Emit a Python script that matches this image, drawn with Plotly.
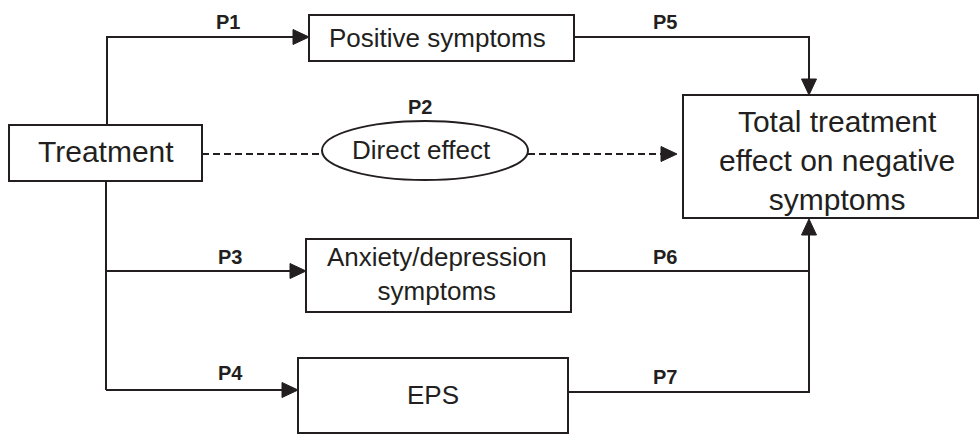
import plotly.graph_objects as go

# ---- data: node labels and path labels ----
node_names = ["treatment", "positive", "direct", "anxiety", "eps", "total"]
node_labels = ["Treatment", "Positive symptoms", "Direct effect",
               "Anxiety/depression<br>symptoms", "EPS",
               "Total treatment<br>effect on negative<br>symptoms"]
path_labels = ["P1", "P2", "P3", "P4", "P5", "P6", "P7"]

# ---- layout geometry (pixel coordinates of the diagram) ----
W, H = 979, 436
INK = "#231f20"
FONT = "Arial, Liberation Sans, Helvetica, sans-serif"

node_geom = {
    "treatment": dict(box=(9, 125, 202, 181), shape="rect", text=(106, 151), size=30),
    "positive":  dict(box=(309, 15, 574, 61), shape="rect", text=(437, 38), size=26),
    "direct":    dict(box=(322, 121, 528, 180), shape="ellipse", text=(421, 150), size=26),
    "anxiety":   dict(box=(306, 239, 571, 312), shape="rect", text=(437, 274), size=26),
    "eps":       dict(box=(298, 358, 568, 433), shape="rect", text=(433, 395), size=26),
    "total":     dict(box=(683, 95, 978, 218), shape="rect", text=(837, 160), size=30),
}

label_pos = [(228, 22), (420, 107), (230, 257), (230, 373),
             (665, 22), (665, 257), (665, 377)]

# edges: polyline points, arrow tip, arrow direction, dashed?
edges = [
    dict(pts=[(107, 125), (107, 37), (294, 37)], tip=(309, 37), d="right", dash=False),
    dict(pts=[(202, 154), (322, 154)], tip=None, d=None, dash=True),
    dict(pts=[(528, 154), (662, 154)], tip=(677, 154), d="right", dash=True),
    dict(pts=[(106, 181), (106, 390)], tip=None, d=None, dash=False),
    dict(pts=[(106, 271), (291, 271)], tip=(306, 271), d="right", dash=False),
    dict(pts=[(106, 390), (283, 390)], tip=(298, 390), d="right", dash=False),
    dict(pts=[(574, 37), (809, 37), (809, 80)], tip=(809, 95), d="down", dash=False),
    dict(pts=[(571, 271), (809, 271)], tip=None, d=None, dash=False),
    dict(pts=[(568, 392), (809, 392), (809, 234)], tip=(809, 219), d="up", dash=False),
]

ARROW_L, ARROW_HW = 16, 7.5

shapes = []
for name in node_names:
    g = node_geom[name]
    x0, y0, x1, y1 = g["box"]
    shapes.append(dict(type="circle" if g["shape"] == "ellipse" else "rect",
                       xref="x", yref="y", x0=x0, y0=y0, x1=x1, y1=y1,
                       line=dict(color=INK, width=2), fillcolor="white", layer="above"))

for e in edges:
    pts = e["pts"]
    path = "M " + " L ".join(f"{x},{y}" for x, y in pts)
    shapes.append(dict(type="path", xref="x", yref="y", path=path,
                       line=dict(color=INK, width=2,
                                 dash="7px,4px" if e["dash"] else "solid"),
                       layer="below"))
    if e["tip"] is not None:
        tx, ty = e["tip"]
        if e["d"] == "right":
            tri = [(tx, ty), (tx - ARROW_L, ty - ARROW_HW), (tx - ARROW_L, ty + ARROW_HW)]
        elif e["d"] == "down":
            tri = [(tx, ty), (tx - ARROW_HW, ty - ARROW_L), (tx + ARROW_HW, ty - ARROW_L)]
        else:
            tri = [(tx, ty), (tx - ARROW_HW, ty + ARROW_L), (tx + ARROW_HW, ty + ARROW_L)]
        p = "M " + " L ".join(f"{x},{y}" for x, y in tri) + " Z"
        shapes.append(dict(type="path", xref="x", yref="y", path=p,
                           fillcolor=INK, line=dict(color=INK, width=1), layer="below"))

annotations = []
for name, lab in zip(node_names, node_labels):
    g = node_geom[name]
    annotations.append(dict(x=g["text"][0], y=g["text"][1], xref="x", yref="y",
                            text=lab, showarrow=False, xanchor="center", yanchor="middle",
                            font=dict(family=FONT, size=g["size"], color=INK)))
for lab, (x, y) in zip(path_labels, label_pos):
    annotations.append(dict(x=x, y=y, xref="x", yref="y", text=f"<b>{lab}</b>",
                            showarrow=False, xanchor="center", yanchor="middle",
                            font=dict(family=FONT, size=20, color=INK)))

fig = go.Figure()
fig.update_layout(
    width=W, height=H, margin=dict(l=0, r=0, t=0, b=0),
    paper_bgcolor="white", plot_bgcolor="white",
    xaxis=dict(range=[0, W], visible=False, fixedrange=True),
    yaxis=dict(range=[H, 0], visible=False, fixedrange=True),
    shapes=shapes, annotations=annotations, showlegend=False,
)

post = (
    "document.body.style.margin='0';"
    "document.body.style.padding='0';"
    "document.body.style.overflow='hidden';"
    "var gd=document.getElementById('{plot_id}');"
    f"Plotly.relayout(gd,{{width:{W},height:{H}}});"
)
fig.write_html("out.html", config={"displayModeBar": False, "responsive": False},
               default_width=f"{W}px", default_height=f"{H}px", post_script=post)
